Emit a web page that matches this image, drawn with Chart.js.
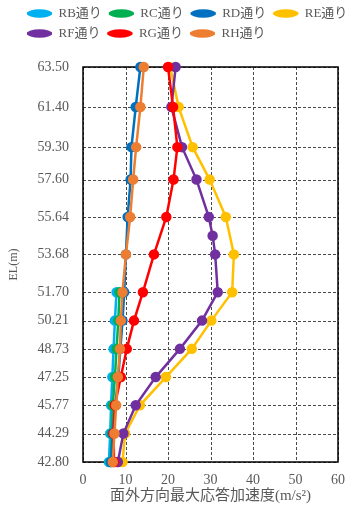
<!DOCTYPE html>
<html>
<head>
<meta charset="utf-8">
<script src="https://cdn.jsdelivr.net/npm/chart.js@4"></script>
<style>
  html, body { margin: 0; padding: 0; background: #fff; }
  #wrap { width: 355px; height: 516px; }
</style>
</head>
<body>
<div id="wrap"><canvas id="el_chart" width="355" height="516"></canvas></div>
<script>
// elevations (tick labels of the EL axis), top to bottom
const elevations = [63.50, 61.40, 59.30, 57.60, 55.64, 53.68, 51.70, 50.21, 48.73, 47.25, 45.77, 44.29, 42.80];
// RF has one more point between 55.64 and 53.68
const rfElevations = [63.50, 61.40, 59.30, 57.60, 55.64, 54.66, 53.68, 51.70, 50.21, 48.73, 47.25, 45.77, 44.29, 42.80];

const seriesNames = ["RB通り", "RC通り", "RD通り", "RE通り", "RF通り", "RG通り", "RH通り"];
const seriesColors = ["#00B0F0", "#00B050", "#0070C0", "#FFC000", "#7030A0", "#FF0000", "#ED7D31"];

const rbValues = [null, null, null, null, null, null, 7.9, 7.5, 7.2, 6.9, 6.6, 6.4, 6.1];
const rcValues = [null, null, null, null, null, null, 8.6, 8.3, 7.9, 7.5, 7.0, 6.8, 6.5];
const rdValues = [13.5, 12.4, 11.4, 11.2, 10.5, 10.1, 9.7, 9.3, 8.8, 8.3, 7.6, 7.0, 6.6];
const reValues = [20.5, 22.5, 25.8, 29.8, 33.6, 35.5, 35.1, 30.2, 25.6, 19.5, 13.4, 9.9, 9.3];
const rfValues = [21.8, 20.8, 23.3, 26.7, 29.6, 30.5, 31.1, 31.7, 28.0, 22.8, 17.1, 12.4, 9.5, 8.2];
const rgValues = [20.0, 21.2, 22.2, 21.3, 19.6, 16.7, 14.1, 12.0, 10.3, 8.9, 7.5, 7.2, 7.3];
const rhValues = [14.3, 13.5, 12.5, 11.8, 11.1, 10.1, 9.3, 8.9, 8.7, 8.2, 7.8, 7.4, 7.0];

const xTicks = [0, 10, 20, 30, 40, 50, 60];

const FONT = "'Liberation Serif', 'Noto Sans CJK JP', serif";
const GRAY = "#595959";

function toPoints(values, els) {
    const pts = [];
    values.forEach((v, i) => {
        if (v !== null) pts.push({x: v, y: els[i]});
    });
    return pts;
}

function init() {
    createElChart();
}

function createElChart() {
    const canvas = document.getElementById("el_chart");
    const allValues = [rbValues, rcValues, rdValues, reValues, rfValues, rgValues, rhValues];

    const datasets = allValues.map((vals, i) => ({
        label: seriesNames[i],
        data: toPoints(vals, vals === rfValues ? rfElevations : elevations),
        borderColor: seriesColors[i],
        backgroundColor: seriesColors[i],
        borderWidth: 2.5,
        pointRadius: 4,
        pointHoverRadius: 4,
        clip: false,
        order: allValues.length - i   // later series on top, like Excel
    }));

    const boxPlugin = {
        id: "boxPlugin",
        beforeInit(chart) {
            const origFit = chart.legend.fit;
            chart.legend.fit = function () {
                origFit.call(this);
                this.height = 67;
            };
        },
        afterLayout(chart) {
            chart.legend.left += 20;
            chart.legend.right += 20;
        },
        beforeDraw(chart) {
            // line part of the legend markers, the dot is drawn by the legend
            const ctx = chart.ctx;
            const boxes = chart.legend.legendHitBoxes || [];
            ctx.save();
            boxes.forEach((hb, i) => {
                ctx.fillStyle = seriesColors[i];
                ctx.fillRect(hb.left, hb.top + 5.25, 25, 2.5);
            });
            ctx.restore();
        },
        beforeDatasetsDraw(chart) {
            const {ctx, chartArea, scales} = chart;
            // dashed grid at the scale ticks, drawn as small dash rectangles
            ctx.save();
            ctx.globalAlpha = 1;
            ctx.globalCompositeOperation = "source-over";
            ctx.fillStyle = "#4a4a4a";
            scales.x.ticks.forEach(t => {
                const px = Math.round(scales.x.getPixelForValue(t.value));
                for (let y = chartArea.top; y < chartArea.bottom; y += 5) {
                    ctx.fillRect(px, y, 1, Math.min(3, chartArea.bottom - y));
                }
            });
            scales.y.ticks.forEach(t => {
                const py = Math.round(scales.y.getPixelForValue(t.value));
                for (let x = chartArea.left; x < chartArea.right; x += 5) {
                    ctx.fillRect(x, py, Math.min(3, chartArea.right - x), 1);
                }
            });
            ctx.restore();

            ctx.save();
            ctx.setLineDash([]);
            ctx.strokeStyle = "#000";
            ctx.lineWidth = 1.5;
            ctx.strokeRect(chartArea.left, chartArea.top, chartArea.right - chartArea.left, chartArea.bottom - chartArea.top);
            ctx.restore();
        }
    };

    const config = {
        type: "line",
        data: {datasets: datasets},
        options: {
            responsive: false,
            animation: false,
            indexAxis: "y",
            layout: {padding: {left: 0, right: 11, top: 0, bottom: 0}},
            plugins: {
                legend: {
                    align: "start",
                    labels: {
                        usePointStyle: true,
                        pointStyleWidth: 25,
                        boxHeight: 6,
                        padding: 7,
                        color: GRAY,
                        font: {family: FONT, size: 13},
                        generateLabels(chart) {
                            return chart.data.datasets.map((ds, i) => ({
                                text: ds.label,
                                pointStyle: "circle",
                                fillStyle: ds.borderColor,
                                strokeStyle: ds.borderColor,
                                lineWidth: 0,
                                fontColor: GRAY,
                                hidden: false,
                                datasetIndex: i
                            }));
                        }
                    }
                },
                tooltip: {enabled: false}
            },
            scales: {
                x: {
                    type: "linear",
                    position: "bottom",
                    min: 0,
                    max: 60,
                    afterBuildTicks(axis) {
                        axis.ticks = xTicks.map(v => ({value: v}));
                    },
                    afterFit(scale) {
                        scale.height = 54;
                    },
                    ticks: {
                        color: GRAY,
                        font: {family: FONT, size: 14},
                        padding: 10,
                        maxRotation: 0,
                        autoSkip: false
                    },
                    grid: {display: false, drawTicks: false},
                    border: {display: false},
                    title: {
                        display: true,
                        text: "面外方向最大応答加速度(m/s²)",
                        color: GRAY,
                        font: {family: FONT, size: 15},
                        padding: {top: 0, bottom: 11}
                    }
                },
                y: {
                    type: "linear",
                    position: "left",
                    min: 42.80,
                    max: 63.50,
                    afterBuildTicks(axis) {
                        axis.ticks = elevations.map(v => ({value: v}));
                    },
                    afterFit(scale) {
                        scale.width = 83;
                    },
                    ticks: {
                        color: GRAY,
                        font: {family: FONT, size: 14},
                        padding: 14,
                        autoSkip: false,
                        callback: v => Number(v).toFixed(2)
                    },
                    grid: {display: false, drawTicks: false},
                    border: {display: false},
                    title: {
                        display: true,
                        text: "EL(m)",
                        color: GRAY,
                        font: {family: FONT, size: 12},
                        padding: {top: 7, bottom: 0}
                    }
                }
            }
        },
        plugins: [boxPlugin]
    };

    const myChart = new Chart(canvas, config);
    return myChart;
}

init();
</script>
</body>
</html>
